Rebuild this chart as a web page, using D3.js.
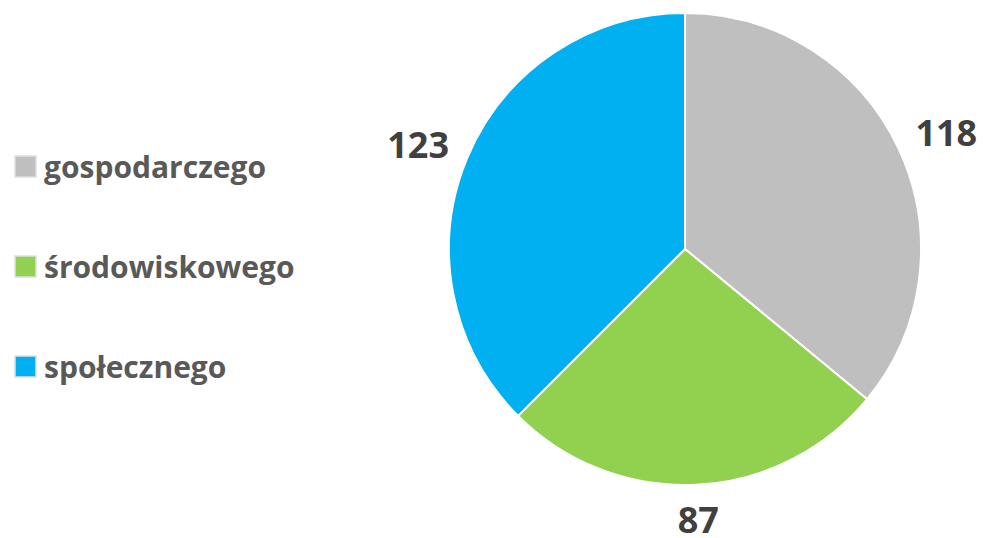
<!DOCTYPE html>
<html>
<meta charset="utf-8">
<style>
  body { margin: 0; background: #fff; }
  text { font-family: "Open Sans", sans-serif; font-weight: bold; }
</style>
<body>
<svg width="983" height="538"></svg>
<script src="https://cdn.jsdelivr.net/npm/d3@7"></script>
<script>
const categories = ["gospodarczego", "środowiskowego", "społecznego"];
const values = [118, 87, 123];
const colors = ["#bfbfbf", "#92d050", "#00b0f0"];

const svg = d3.select("svg");
const cx = 685, cy = 249, radius = 236;
const labelSize = 36;

const data = categories.map((c, i) => ({ name: c, value: values[i], color: colors[i] }));

const pie = d3.pie().value(d => d.value).sort(null);
const arc = d3.arc().innerRadius(0).outerRadius(radius);

const g = svg.append("g").attr("transform", `translate(${cx},${cy})`);

const arcs = pie(data);

g.selectAll("path").data(arcs)
  .enter().append("path")
  .attr("d", arc)
  .attr("fill", d => d.data.color)
  .attr("stroke", "#fff")
  .attr("stroke-width", 2);

// etykiety na zewnatrz - kotwica na luku + polowa ramki tekstu
const lbl = g.selectAll("text.lbl").data(arcs)
  .enter().append("text")
  .attr("class", "lbl")
  .attr("text-anchor", "middle")
  .attr("fill", "#404040")
  .style("font-size", labelSize + "px")
  .text(d => d.data.value);

lbl.each(function(d) {
  const a = (d.startAngle + d.endAngle) / 2;
  const s = Math.sin(a), c = -Math.cos(a);
  const w = this.getComputedTextLength();
  const h = labelSize * 0.72;
  const r0 = radius + 22;
  const x = s * r0 + s * w / 2;
  const y = c * r0 + c * h / 2;
  d3.select(this).attr("x", x).attr("y", y + h / 2);
});

// legenda
const legend = svg.append("g");
const rowY = d3.scalePoint().domain(categories).range([167, 367]);

const row = legend.selectAll("g").data(data)
  .enter().append("g")
  .attr("transform", d => `translate(15,${rowY(d.name)})`);

row.append("rect")
  .attr("x", 0).attr("y", -11)
  .attr("width", 21).attr("height", 21)
  .attr("fill", d => d.color)
  .attr("stroke", "#e0e0e0")
  .attr("stroke-width", 1.5);

row.append("text")
  .attr("x", 29)
  .attr("dy", "0.36em")
  .attr("fill", "#595959")
  .style("font-size", "30px")
  .text(d => d.name);
</script>
</body>
</html>
